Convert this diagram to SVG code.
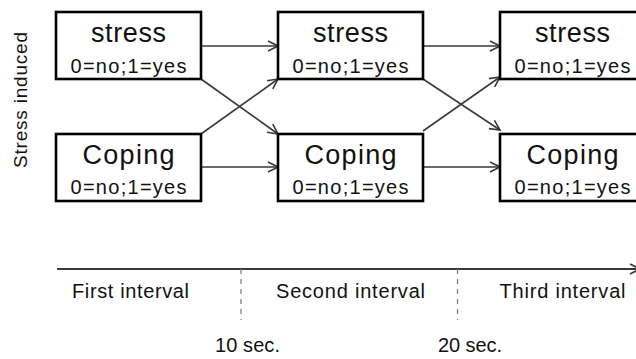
<svg xmlns="http://www.w3.org/2000/svg" width="636" height="359" viewBox="0 0 636 359">
<style>
text{font-family:"Liberation Sans",Arial,sans-serif;fill:#111;text-anchor:middle}
.box{fill:#fff;stroke:#000;stroke-width:2.6}
.t{font-size:27px}
.v{font-size:20px}
.c{stroke:#3a3a3a;stroke-width:1.6;fill:none}
.lab{font-size:20px}
</style>
<defs>
<marker id="ah" viewBox="0 0 12 12" refX="11" refY="6" markerWidth="12" markerHeight="12" markerUnits="userSpaceOnUse" orient="auto">
<path d="M1,1 L11,6 L1,11" fill="none" stroke="#3a3a3a" stroke-width="1.6"/>
</marker>
</defs>
<text transform="translate(27,100) rotate(-90)" style="font-size:19px" textLength="136">Stress induced</text>
<g id="connectors">
<line class="c" x1="201" y1="46" x2="278" y2="46" marker-end="url(#ah)"/>
<line class="c" x1="201" y1="167" x2="278" y2="167" marker-end="url(#ah)"/>
<line class="c" x1="201" y1="79" x2="278" y2="134" marker-end="url(#ah)"/>
<line class="c" x1="201" y1="134" x2="278" y2="79" marker-end="url(#ah)"/>
<line class="c" x1="423" y1="46" x2="500" y2="46" marker-end="url(#ah)"/>
<line class="c" x1="423" y1="167" x2="500" y2="167" marker-end="url(#ah)"/>
<line class="c" x1="423" y1="79" x2="500" y2="130" marker-end="url(#ah)"/>
<line class="c" x1="423" y1="131" x2="500" y2="77" marker-end="url(#ah)"/>
</g>
<g id="stress1"><rect class="box" x="56" y="12" width="145" height="67"/><text class="t" x="128.5" y="41.5" textLength="75">stress</text><text class="v" x="128.5" y="72.5" textLength="116">0=no;1=yes</text></g>
<g id="coping1"><rect class="box" x="56" y="134" width="145" height="67"/><text class="t" x="128.5" y="163.5" textLength="92">Coping</text><text class="v" x="128.5" y="194" textLength="116">0=no;1=yes</text></g>
<g id="stress2"><rect class="box" x="278" y="12" width="145" height="67"/><text class="t" x="350.5" y="41.5" textLength="75">stress</text><text class="v" x="350.5" y="72.5" textLength="116">0=no;1=yes</text></g>
<g id="coping2"><rect class="box" x="278" y="134" width="145" height="67"/><text class="t" x="350.5" y="163.5" textLength="92">Coping</text><text class="v" x="350.5" y="194" textLength="116">0=no;1=yes</text></g>
<g id="stress3"><rect class="box" x="500" y="12" width="145" height="67"/><text class="t" x="572.5" y="41.5" textLength="75">stress</text><text class="v" x="572.5" y="72.5" textLength="116">0=no;1=yes</text></g>
<g id="coping3"><rect class="box" x="500" y="134" width="145" height="67"/><text class="t" x="572.5" y="163.5" textLength="92">Coping</text><text class="v" x="572.5" y="194" textLength="116">0=no;1=yes</text></g>
<g id="timeline">
<line x1="57" y1="269" x2="640" y2="269" stroke="#3a3a3a" stroke-width="1.8"/>
<path d="M630,264 L640,269 L630,274" fill="none" stroke="#3a3a3a" stroke-width="1.6"/>
<line x1="241" y1="269" x2="241" y2="320" stroke="#777" stroke-width="1.2" stroke-dasharray="5,5"/>
<line x1="457.5" y1="269" x2="457.5" y2="320" stroke="#777" stroke-width="1.2" stroke-dasharray="5,5"/>
<text class="lab" x="130.5" y="298" textLength="117">First interval</text>
<text class="lab" x="350.5" y="298" textLength="149">Second interval</text>
<text class="lab" x="562.5" y="298" textLength="126">Third interval</text>
<text class="lab" x="247.5" y="352" textLength="65">10 sec.</text>
<text class="lab" x="470" y="352" textLength="64">20 sec.</text>
</g>
</svg>
